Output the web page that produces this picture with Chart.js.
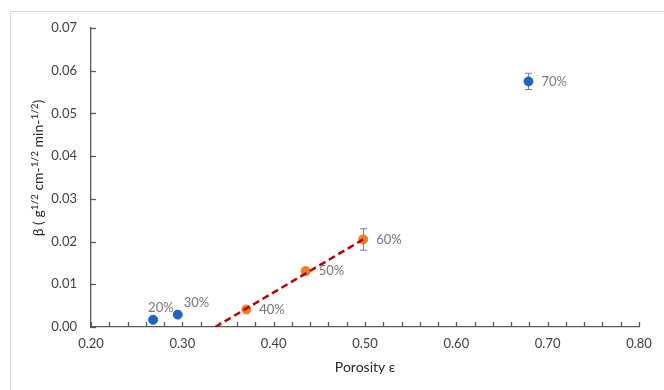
<!DOCTYPE html>
<html>
<head>
<meta charset="utf-8">
<script src="https://cdn.jsdelivr.net/npm/chart.js@4/dist/chart.umd.min.js"></script>
<style>
  html, body { margin: 0; padding: 0; background: #fff; }
  #wrap { width: 664px; height: 390px; position: relative; }
</style>
</head>
<body>
<div id="wrap"><canvas id="chart" width="664" height="390"></canvas></div>
<script>
// Data
const porosity = [0.268, 0.295, 0.370, 0.435, 0.498, 0.679];
const beta = [0.0017, 0.0029, 0.0041, 0.0131, 0.0205, 0.0575];
const betaErr = [0, 0, 0, 0, 0.0025, 0.0019];
const pointLabels = ["20%", "30%", "40%", "50%", "60%", "70%"];
const inFit = [false, false, true, true, true, false];
const labelSide = ["above", "aboveRight", "right", "right", "right", "right"];

// Dashed trend line end points
const fitX = [0.336, 0.498];
const fitY = [0, 0.0205];

const xTicks = [0.2, 0.8, 0.1];
const yTicks = [0, 0.07, 0.01];

const FONT = "Lato, 'Open Sans', sans-serif";
const BLUE = "#1f63c6";
const ORANGE = "#f27b1f";

const bluePts = [];
const orangePts = [];
porosity.forEach((x, i) => {
  (inFit[i] ? orangePts : bluePts).push({ x: x, y: beta[i] });
});
const fitPts = fitX.map((x, i) => ({ x: x, y: fitY[i] }));

// frame, ticks, error bars, labels, titles
const extras = {
  id: "extras",
  beforeDraw(chart) {
    const ctx = chart.ctx;
    ctx.save();
    ctx.strokeStyle = "#d9d9d9";
    ctx.lineWidth = 1;
    ctx.strokeRect(10.5, 11.5, 800, 500);
    ctx.restore();
  },
  afterDraw(chart) {
    const ctx = chart.ctx;
    const xs = chart.scales.x, ys = chart.scales.y;
    const area = chart.chartArea;
    ctx.save();
    ctx.strokeStyle = "#595959";
    ctx.lineWidth = 1.3;
    // inward ticks, minor every 0.02 on x
    for (let k = 0; k <= 30; k++) {
      const px = Math.round(xs.getPixelForValue(0.2 + k * 0.02)) + 0.5;
      ctx.beginPath();
      ctx.moveTo(px, area.bottom);
      ctx.lineTo(px, area.bottom - 5);
      ctx.stroke();
    }
    for (let k = 0; k <= 7; k++) {
      const py = Math.round(ys.getPixelForValue(k * 0.01)) + 0.5;
      ctx.beginPath();
      ctx.moveTo(area.left, py);
      ctx.lineTo(area.left + 5, py);
      ctx.stroke();
    }
    ctx.restore();
  },
  beforeDatasetsDraw(chart) {
    const ctx = chart.ctx;
    const xs = chart.scales.x, ys = chart.scales.y;
    ctx.save();
    ctx.lineWidth = 1;
    // error bars
    ctx.strokeStyle = "#7f7f7f";
    porosity.forEach((x, i) => {
      if (!betaErr[i]) return;
      const px = Math.round(xs.getPixelForValue(x)) + 0.5;
      const top = ys.getPixelForValue(beta[i] + betaErr[i]);
      const bot = ys.getPixelForValue(beta[i] - betaErr[i]);
      ctx.beginPath();
      ctx.moveTo(px, top); ctx.lineTo(px, bot);
      ctx.moveTo(px - 3.5, top); ctx.lineTo(px + 3.5, top);
      ctx.moveTo(px - 3.5, bot); ctx.lineTo(px + 3.5, bot);
      ctx.stroke();
    });
    ctx.restore();
  },
  afterDatasetsDraw(chart) {
    const ctx = chart.ctx;
    const xs = chart.scales.x, ys = chart.scales.y;
    ctx.save();
    ctx.font = "13px " + FONT;
    ctx.fillStyle = "#767676";
    ctx.textBaseline = "middle";
    porosity.forEach((x, i) => {
      const px = xs.getPixelForValue(x);
      const py = ys.getPixelForValue(beta[i]);
      let tx = px + 13, ty = py;
      if (labelSide[i] === "above") { tx = px - 5; ty = py - 12; }
      if (labelSide[i] === "aboveRight") { tx = px + 6; ty = py - 12; }
      ctx.fillText(pointLabels[i], tx, ty);
    });

    // axis titles
    ctx.fillStyle = "#262626";
    ctx.font = "14px " + FONT;
    ctx.textAlign = "center";
    ctx.fillText("Porosity ε", (chart.chartArea.left + chart.chartArea.right) / 2, 367);

    const parts = [
      ["β ( g", false], ["1/2", true], [" cm-", false], ["1/2", true],
      [" min-", false], ["1/2", true], [")", false]
    ];
    const big = "14px " + FONT, small = "10px " + FONT;
    let total = 0;
    parts.forEach(p => { ctx.font = p[1] ? small : big; total += ctx.measureText(p[0]).width; });
    ctx.translate(38, 168);
    ctx.rotate(-Math.PI / 2);
    ctx.textAlign = "left";
    ctx.textBaseline = "alphabetic";
    let cx = -total / 2;
    parts.forEach(p => {
      ctx.font = p[1] ? small : big;
      ctx.fillText(p[0], cx, p[1] ? -0.5 : 5);
      cx += ctx.measureText(p[0]).width;
    });
    ctx.restore();
  }
};

new Chart(document.getElementById("chart"), {
  type: "scatter",
  data: {
    datasets: [
      {
        type: "line",
        label: "fit",
        data: fitPts,
        borderColor: "#c00000",
        borderWidth: 2.5,
        borderDash: [7, 4],
        pointRadius: 0,
        fill: false,
      },
      {
        label: "orange",
        data: orangePts,
        backgroundColor: ORANGE,
        borderColor: ORANGE,
        pointRadius: 4.5,
      },
      {
        label: "blue",
        data: bluePts,
        backgroundColor: BLUE,
        borderColor: BLUE,
        pointRadius: 4.5,
      },
    ],
  },
  options: {
    responsive: false,
    animation: false,
    layout: { padding: { top: 28, right: 25, left: 0, bottom: 0 } },
    plugins: {
      legend: { display: false },
      tooltip: { enabled: false },
    },
    scales: {
      x: {
        type: "linear",
        min: xTicks[0],
        max: xTicks[1],
        ticks: {
          stepSize: xTicks[2],
          padding: 9,
          color: "#404040",
          font: { family: FONT, size: 13 },
          callback: (v) => v.toFixed(2),
        },
        grid: { drawOnChartArea: false, drawTicks: false },
        border: { color: "#595959", width: 1.3 },
        afterFit: (s) => { s.height = 63; },
      },
      y: {
        type: "linear",
        min: yTicks[0],
        max: yTicks[1],
        ticks: {
          stepSize: yTicks[2],
          padding: 14,
          color: "#404040",
          font: { family: FONT, size: 13 },
          callback: (v) => v.toFixed(2),
        },
        grid: { drawOnChartArea: false, drawTicks: false },
        border: { color: "#595959", width: 1.3 },
        afterFit: (s) => { s.width = 91; },
      },
    },
  },
  plugins: [extras],
});
</script>
</body>
</html>
